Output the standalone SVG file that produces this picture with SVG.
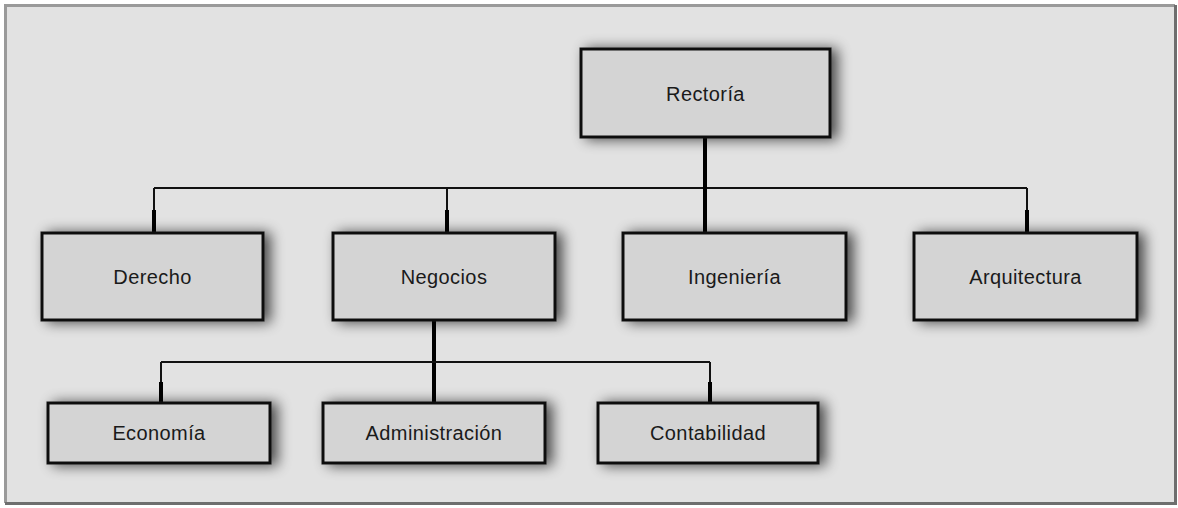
<svg xmlns="http://www.w3.org/2000/svg" width="1178" height="508" viewBox="0 0 1178 508">
<style>
.box{fill:#d4d4d4;stroke:#111;stroke-width:3}
.lbl{font-family:"Liberation Sans",Arial,sans-serif;font-size:20px;fill:#1a1a1a;text-anchor:middle;letter-spacing:0.4px}
.thin{stroke:#111;stroke-width:2;fill:none}
.thick{stroke:#000;stroke-width:4;fill:none}
</style>
<defs>
<filter id="sh" x="-20%" y="-40%" width="140%" height="180%">
<feGaussianBlur in="SourceAlpha" stdDeviation="7"/>
<feOffset dx="6" dy="1" result="b"/>
<feComponentTransfer><feFuncA type="linear" slope="0.7"/></feComponentTransfer>
<feMerge><feMergeNode/><feMergeNode in="SourceGraphic"/></feMerge>
</filter>
</defs>
<rect x="0" y="0" width="1178" height="508" fill="#ffffff"/>
<rect x="5" y="5" width="1170" height="498" fill="#e2e2e2"/>
<path d="M5.5 503 V5.5 H1175" stroke="#9a9a9a" stroke-width="3" fill="none"/>
<path d="M1175.5 5 V503.5 H5" stroke="#6e6e6e" stroke-width="3" fill="none"/>
<g id="connectors">
<path class="thin" d="M154 188 H1027"/>
<path class="thick" d="M705 137 V233"/>
<path class="thin" d="M154 188 V212 M447 188 V212 M1027 188 V212"/>
<path class="thick" d="M154 210 V233 M447 210 V233 M1027 210 V233"/>
<path class="thick" d="M434 320 V403"/>
<path class="thin" d="M161 362 H710"/>
<path class="thin" d="M161 362 V384 M710 362 V384"/>
<path class="thick" d="M161 382 V403 M710 382 V403"/>
</g>
<g id="rectoria"><rect class="box" x="581" y="49" width="249" height="88" filter="url(#sh)"/><text class="lbl" x="705.5" y="101">Rectoría</text></g>
<g id="derecho"><rect class="box" x="42" y="233" width="221" height="87" filter="url(#sh)"/><text class="lbl" x="152.5" y="284">Derecho</text></g>
<g id="negocios"><rect class="box" x="333" y="233" width="222" height="87" filter="url(#sh)"/><text class="lbl" x="444" y="284">Negocios</text></g>
<g id="ingenieria"><rect class="box" x="623" y="233" width="223" height="87" filter="url(#sh)"/><text class="lbl" x="734.5" y="284">Ingeniería</text></g>
<g id="arquitectura"><rect class="box" x="914" y="233" width="223" height="87" filter="url(#sh)"/><text class="lbl" x="1025.5" y="284">Arquitectura</text></g>
<g id="economia"><rect class="box" x="48" y="403" width="222" height="60" filter="url(#sh)"/><text class="lbl" x="159" y="440">Economía</text></g>
<g id="administracion"><rect class="box" x="323" y="403" width="222" height="60" filter="url(#sh)"/><text class="lbl" x="434" y="440">Administración</text></g>
<g id="contabilidad"><rect class="box" x="598" y="403" width="220" height="60" filter="url(#sh)"/><text class="lbl" x="708" y="440">Contabilidad</text></g>
</svg>
